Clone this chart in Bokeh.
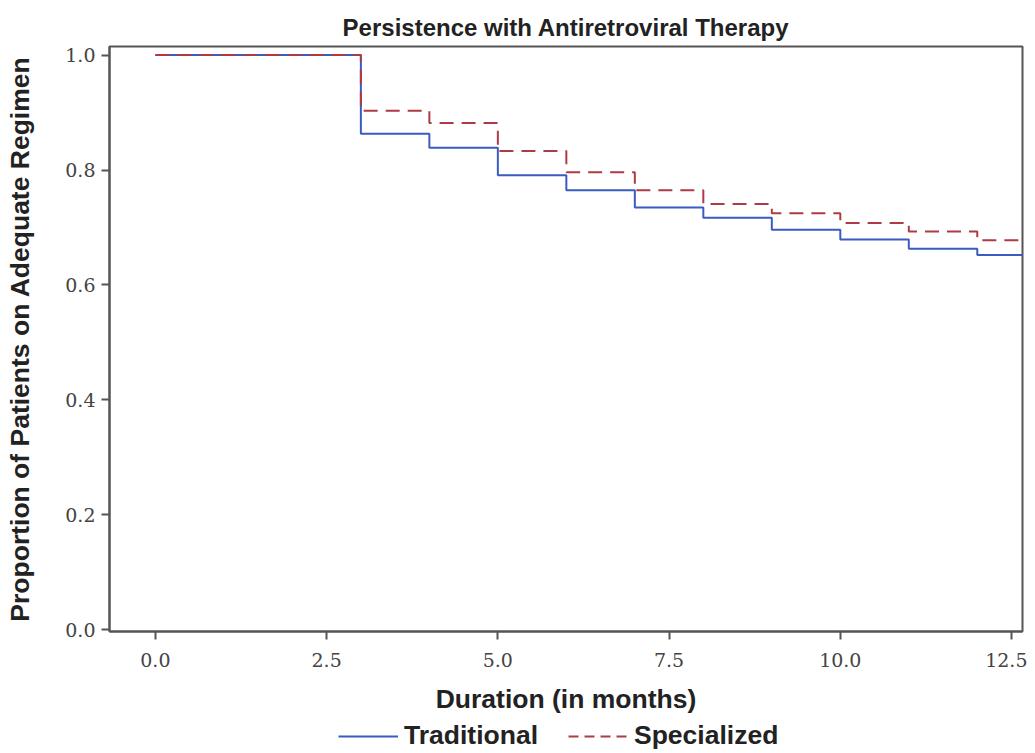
from bokeh.plotting import figure
from bokeh.layouts import column
from bokeh.models import Range1d, FixedTicker, Legend, LegendItem, CustomJSTickFormatter
from bokeh.embed import file_html
from bokeh.resources import INLINE

# Kaplan-Meier style persistence curves (months, proportion)
months = [0, 3, 4, 5, 6, 7, 8, 9, 10, 11, 12, 12.7]
traditional = [1.0, 0.863, 0.839, 0.791, 0.765, 0.735, 0.717, 0.696, 0.679, 0.663, 0.652, 0.652]
specialized = [1.0, 0.903, 0.882, 0.833, 0.796, 0.765, 0.741, 0.725, 0.708, 0.693, 0.678, 0.678]
series_names = ["Traditional", "Specialized"]

x_ticks = [0, 2.5, 5, 7.5, 10, 12.5]
y_ticks = [0, 0.2, 0.4, 0.6, 0.8, 1.0]

BLUE = "#3B5BC0"
RED = "#AE3A45"
AXIS = "#555555"
W = 1027

p = figure(
    frame_width=913, frame_height=585,
    min_border_left=109, min_border_right=5, min_border_top=46, min_border_bottom=86,
    output_backend="svg", toolbar_location=None,
    x_range=Range1d(-0.67, 12.66), y_range=Range1d(-0.003, 1.015),
    title="Persistence with Antiretroviral Therapy",
)
p.title.align = "center"
p.title.text_font = "Liberation Sans"
p.title.text_font_size = "24px"
p.title.text_font_style = "bold"
p.title.text_color = "#222222"
p.title.standoff = 11

p.step(months, traditional, mode="after", line_color=BLUE, line_width=2)
p.step(months, specialized, mode="after", line_color=RED, line_width=2, line_dash="14 8")

p.xgrid.visible = False
p.ygrid.visible = False
p.outline_line_color = AXIS
p.outline_line_width = 2
p.background_fill_color = "white"
p.border_fill_color = "white"

fmt = CustomJSTickFormatter(code="return tick.toFixed(1);")
for ax, ticks in ((p.xaxis[0], x_ticks), (p.yaxis[0], y_ticks)):
    ax.ticker = FixedTicker(ticks=ticks)
    ax.formatter = fmt
    ax.minor_tick_line_color = None
    ax.major_tick_in = 0
    ax.major_tick_out = 8
    ax.major_tick_line_color = AXIS
    ax.major_tick_line_width = 2
    ax.axis_line_color = AXIS
    ax.axis_line_width = 2
    ax.major_label_text_font = "DejaVu Serif"
    ax.major_label_text_font_size = "19px"
    ax.major_label_text_color = "#444444"
    ax.axis_label_text_font = "Liberation Sans"
    ax.axis_label_text_font_size = "26.5px"
    ax.axis_label_text_font_style = "bold"
    ax.axis_label_text_color = "#222222"

p.xaxis.axis_label = "Duration (in months)"
p.xaxis.major_label_standoff = 13
p.xaxis.axis_label_standoff = 14
p.yaxis.axis_label = "Proportion of Patients on Adequate Regimen"
p.yaxis.major_label_standoff = 6
p.yaxis.axis_label_standoff = 27

# legend strip below the plot (its series lie outside its visible y range)
lg = figure(
    width=W, height=36, output_backend="svg", toolbar_location=None,
    x_axis_location=None, y_axis_location=None, min_border=0,
    x_range=Range1d(0, 1), y_range=Range1d(10, 11),
)
lg.outline_line_color = None
lg.xgrid.visible = False
lg.ygrid.visible = False
r1 = lg.line(months, traditional, line_color=BLUE, line_width=2)
r2 = lg.line(months, specialized, line_color=RED, line_width=2, line_dash="10 6")
legend = Legend(
    items=[LegendItem(label=series_names[0], renderers=[r1]),
           LegendItem(label=series_names[1], renderers=[r2])],
    orientation="horizontal", location=(229, 2),
    label_text_font="Liberation Sans", label_text_font_size="26.5px",
    label_text_font_style="bold", label_text_color="#222222",
    glyph_width=60, glyph_height=20, label_height=24, spacing=30, padding=0, margin=0,
    border_line_color=None, background_fill_alpha=0, label_standoff=6,
)
lg.add_layout(legend, "center")

layout = column(p, lg, spacing=0)
open("out.html", "w").write(file_html(layout, INLINE))
